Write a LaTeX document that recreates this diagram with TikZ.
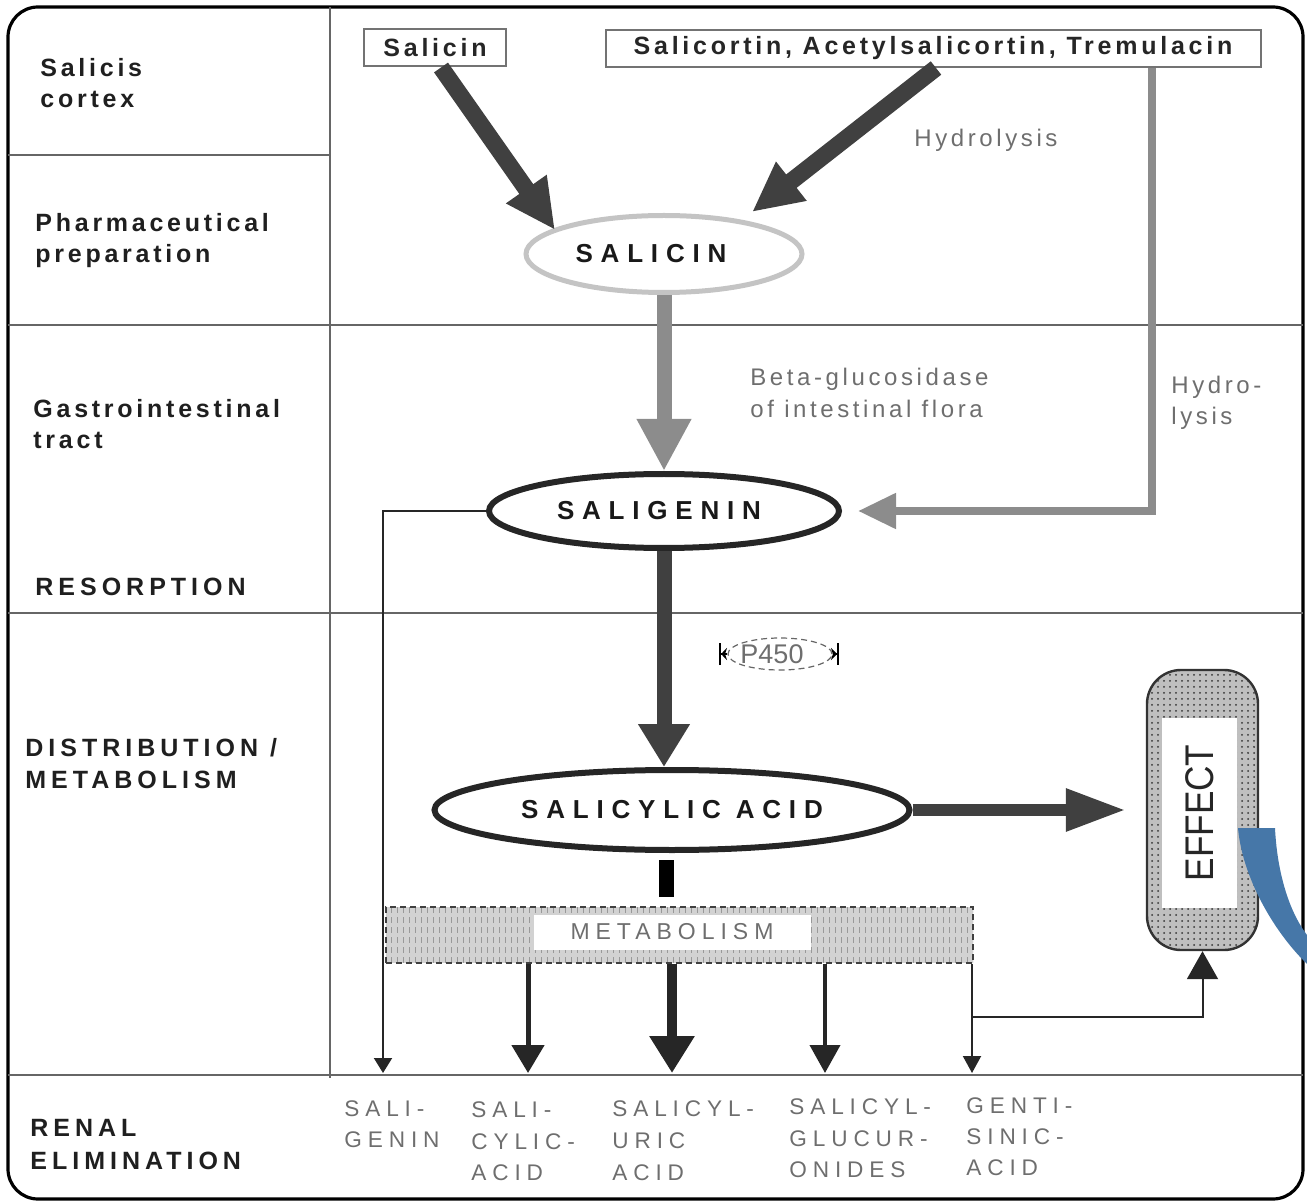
\documentclass[tikz,border=0pt]{standalone}
\usepackage{fontspec}
\setmainfont{Liberation Sans}
\newfontfamily\lblfont[LetterSpace=20]{Liberation Sans}
\newfontfamily\lblmixfont[LetterSpace=15]{Liberation Sans}
\newfontfamily\ellfont[LetterSpace=30]{Liberation Sans}
\newfontfamily\boxfont[LetterSpace=15]{Liberation Sans}
\newfontfamily\grayfont[LetterSpace=15]{Liberation Sans}
\newfontfamily\botfont[LetterSpace=26]{Liberation Sans}
\newfontfamily\narrowfont[FakeStretch=0.88]{Liberation Sans}
\usetikzlibrary{arrows.meta,shapes.geometric,patterns,calc}
\definecolor{darkfill}{HTML}{404040}
\definecolor{midgray}{HTML}{8C8C8C}
\definecolor{txtgray}{HTML}{6E6E6E}
\definecolor{rulegray}{HTML}{666666}
\definecolor{lightell}{HTML}{C4C4C4}
\definecolor{blueshape}{HTML}{4677A8}
\tikzset{
  lbl/.style={anchor=base west, inner sep=0, text=black!88, font=\lblfont\bfseries\fontsize{12.5}{15}\selectfont},
  lblmix/.style={anchor=base west, inner sep=0, text=black!88, font=\lblmixfont\bfseries\fontsize{12.5}{15}\selectfont},
  botlbl/.style={anchor=base west, inner sep=0, text=txtgray, font=\botfont\fontsize{11.3}{13}\selectfont},
  graylbl/.style={anchor=base west, inner sep=0, text=txtgray, font=\grayfont\fontsize{12}{14}\selectfont},
  srcbox/.style={draw=black!55, line width=1pt, fill=white, inner sep=0, minimum height=18.5pt, text=black!85, font=\boxfont\bfseries\fontsize{12.5}{15}\selectfont},
  ell/.style={ellipse, inner sep=0, fill=white, text=black!90, font=\ellfont\bfseries\fontsize{13}{15}\selectfont},
  divider/.style={rulegray, line width=1pt},
  thinarrow/.style={black!85},
}
\begin{document}
\begin{tikzpicture}[x=0.5pt,y=-0.5pt]
\useasboundingbox (0,0) rectangle (1307,1203);
% frame and grid
\draw[line width=1.6pt, rounded corners=15pt] (8,7) rectangle (1303,1199);
\draw[divider] (330,7) -- (330,1078);
\draw[divider] (8,155) -- (330,155);
\draw[divider] (8,325) -- (1303,325);
\draw[divider] (8,613) -- (1303,613);
\draw[divider] (8,1075) -- (1303,1075);

% left labels
\node[lblmix] (l1a) at (40,77) {Salicis};
\node[lblmix] (l1b) at (40,108) {cortex};
\node[lblmix] (l2a) at (35,232) {Pharmaceutical};
\node[lblmix] (l2b) at (35,263) {preparation};
\node[lblmix] (l3a) at (33,418) {Gastrointestinal};
\node[lblmix] (l3b) at (33,449) {tract};
\node[lbl] (l4) at (35,596) {RESORPTION};
\node[lbl] (l5a) at (25,756) {DISTRIBUTION /};
\node[lbl] (l5b) at (25,788) {METABOLISM};
\node[lbl] (l6a) at (30,1136) {RENAL};
\node[lbl] (l6b) at (30,1169) {ELIMINATION};

% source boxes
\node[srcbox, minimum width=71pt] (sbox) at (435,48) {Salicin};
\node[srcbox, minimum width=327.5pt] (bigbox) at (933,48.5) {Salicortin, Acetylsalicortin, Tremulacin};

% main ellipses
\node[ell, draw=lightell, line width=2.5pt, minimum width=138pt, minimum height=38.5pt] (salicin) at (664,254) {SALICIN\rule{13pt}{0pt}};
\node[ell, draw=black!85, line width=3pt, minimum width=175pt, minimum height=37pt] (saligenin) at (664,511) {SALIGENIN\rule{5pt}{0pt}};
\node[ell, draw=black!85, line width=3pt, minimum width=237.5pt, minimum height=40pt] (salicylic) at (672,810) {SALICYLIC ACID};

% thick arrows into SALICIN
\draw[darkfill, line width=8.5pt, -{Triangle[width=23pt,length=25pt]}] ($(sbox.south)+(6,0)$) -- ($(salicin.center)+(-109,-24)$);
\draw[darkfill, line width=8.5pt, -{Triangle[width=23pt,length=25pt]}] ($(bigbox.south)+(3,0)$) -- ($(salicin.center)+(88,-42)$);
\node[graylbl] (hydr1) at (914,147) {Hydrolysis};

% SALICIN -> SALIGENIN
\draw[midgray, line width=7.5pt, -{Triangle[width=25.5pt,length=26pt]}] (salicin.south) -- (saligenin.north);
\node[graylbl] (beta1) at (750,386) {Beta-glucosidase};
\node[graylbl] (beta2) at (750,418) {of intestinal flora};

% hydrolysis side path
\draw[midgray, line width=4pt, -{Triangle[width=17pt,length=19pt]}, shorten >=8pt] ($(bigbox.south west)+(547,0)$) |- (saligenin.east);
\node[graylbl] (hydr2a) at (1171,394) {Hydro-};
\node[graylbl] (hydr2b) at (1171,425) {lysis};

% SALIGENIN -> SALICYLIC ACID
\draw[darkfill, line width=7.5pt, -{Triangle[width=24.5pt,length=21.5pt]}] (saligenin.south) -- (saligenin.south |- salicylic.north);

% P450
\node[ellipse, draw=black!60, densely dashed, line width=0.6pt, minimum width=52pt, minimum height=16pt, inner sep=0] (p450) at (780,654) {};
\node[inner sep=0, text=txtgray, font=\fontsize{13.5}{15}\selectfont] (p450txt) at (772,654) {P450};
\draw[black, line width=0.8pt, -{Stealth[length=3pt,width=6pt]Bar[width=11pt]}] (p450.west) -- ++(-8,0);
\draw[black, line width=0.8pt, -{Stealth[length=3pt,width=6pt]Bar[width=11pt]}] (p450.east) -- ++(6,0);

% EFFECT capsule
\node[rectangle, rounded corners=17pt, minimum width=55.5pt, minimum height=140pt, inner sep=0,
      preaction={fill=gray!50}, pattern=dots, pattern color=gray!40!black, draw=black!80, line width=1.2pt] (effect) at (1202.5,810) {};
\node[rotate=90, fill=white, inner sep=0, minimum width=95pt, minimum height=37.5pt, text=black!85,
      font=\narrowfont\fontsize{20}{20}\selectfont] (efftxt) at (1199.5,813) {EFFECT};
\draw[darkfill, line width=6pt, -{Triangle[width=20pt,length=30pt]}, shorten >=10pt] (salicylic.east) -- (effect.west);

% metabolism block
\node[fill=black, minimum width=7.5pt, minimum height=18.5pt, inner sep=0] (stub) at (666,878) {};
\node[minimum width=293.5pt, minimum height=28pt, inner sep=0, preaction={fill=gray!35},
      pattern=vertical lines, pattern color=gray!80, draw=gray!50!black, line width=0.6pt, densely dashed] (metab) at (679.5,935) {};
\node[fill=white, minimum width=138.5pt, minimum height=17.5pt, inner sep=0, text=txtgray,
      font=\botfont\fontsize{11.5}{13}\selectfont] (metabtxt) at (672,932) {METABOLISM};

% elimination arrows
\coordinate (r1) at (383,1073);
\coordinate (r2) at (528,1073);
\coordinate (r3) at (672,1073);
\coordinate (r4) at (825,1073);
\coordinate (r5) at (972,1073);
\coordinate (br) at (972,1017);
\draw[thinarrow, line width=1pt, -{Triangle[width=9pt,length=7.5pt]}] (saligenin.west) -| (r1);
\draw[thinarrow, line width=2.5pt, -{Triangle[width=16pt,length=14pt]}] (metab.south -| r2) -- (r2);
\draw[thinarrow, line width=5pt, -{Triangle[width=21.5pt,length=18.5pt]}] (metab.south -| r3) -- (r3);
\draw[thinarrow, line width=2pt, -{Triangle[width=15pt,length=14pt]}] (metab.south -| r4) -- (r4);
\draw[thinarrow, line width=1pt, -{Triangle[width=9pt,length=8.5pt]}] (metab.south -| r5) -- (r5);
\draw[thinarrow, line width=1pt, -{Triangle[width=15.5pt,length=14pt]}] (br) -| (effect.south);

% bottom labels
\node[botlbl] (b1a) at (344,1116) {SALI-};
\node[botlbl] (b1b) at (344,1147) {GENIN};
\node[botlbl] (b2a) at (471,1117) {SALI-};
\node[botlbl] (b2b) at (471,1149) {CYLIC-};
\node[botlbl] (b2c) at (471,1180) {ACID};
\node[botlbl] (b3a) at (612,1116) {SALICYL-};
\node[botlbl] (b3b) at (612,1148) {URIC};
\node[botlbl] (b3c) at (612,1180) {ACID};
\node[botlbl] (b4a) at (789,1114) {SALICYL-};
\node[botlbl] (b4b) at (789,1146) {GLUCUR-};
\node[botlbl] (b4c) at (789,1177) {ONIDES};
\node[botlbl] (b5a) at (966,1113) {GENTI-};
\node[botlbl] (b5b) at (966,1144) {SINIC-};
\node[botlbl] (b5c) at (966,1175) {ACID};

% blue overlay shape
\fill[blueshape] (1238,828) -- (1275,828) .. controls (1277,870) and (1288,910) .. (1307,935)
  -- (1307,964) .. controls (1272,930) and (1242,875) .. (1238,828) -- cycle;
\end{tikzpicture}
\end{document}
